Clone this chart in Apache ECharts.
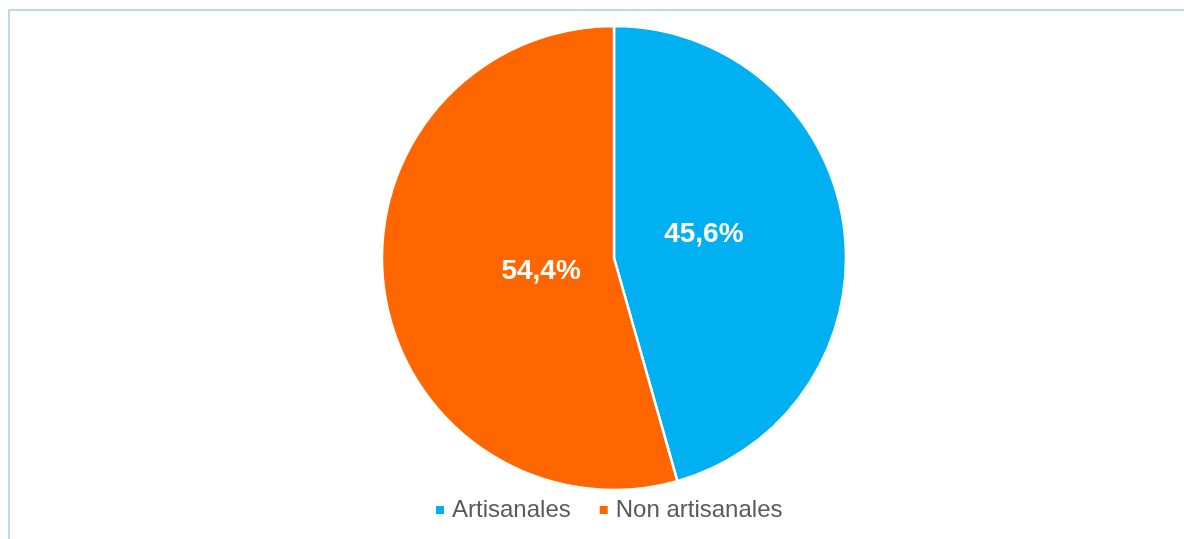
<!DOCTYPE html>
<html>
<head>
<meta charset="utf-8">
<style>
  html, body { margin: 0; padding: 0; background: #fff; overflow: hidden; }
  #frame {
    position: absolute; left: 8px; top: 9px;
    width: 1200px; height: 560px;
    border: 2px solid #BDD7EE; box-sizing: border-box;
  }
  #chart { position: absolute; left: 0; top: 0; width: 1184px; height: 539px; }
</style>
<script src="https://cdn.jsdelivr.net/npm/echarts@6/dist/echarts.min.js"></script>
</head>
<body>
<div id="frame"></div>
<div id="chart"></div>
<script>
// Share of artisanal vs non-artisanal production (%)
const categories = ['Artisanales', 'Non artisanales'];
const shares = [45.6, 54.4];
const colors = ['#00B0F0', '#FF6600'];
// nudges for the in-slice percentage labels
const labelOffsets = [[-28, -7], [45, -3]];

const chart = echarts.init(document.getElementById('chart'), null, { renderer: 'canvas' });

const pct = v => v.toFixed(1).replace('.', ',') + '%';

chart.setOption({
  animation: false,
  legend: {
    bottom: 12,
    left: 429,
    icon: 'rect',
    itemWidth: 10,
    itemHeight: 10,
    itemGap: 27,
    data: categories,
    textStyle: {
      fontFamily: 'Liberation Sans, Arial, sans-serif',
      fontSize: 24,
      color: '#595959',
      padding: [0, 0, 0, 2]
    }
  },
  series: [{
    type: 'pie',
    center: [614, 258],
    radius: 232,
    startAngle: 90,
    clockwise: true,
    avoidLabelOverlap: false,
    itemStyle: { borderColor: '#ffffff', borderWidth: 2.5 },
    label: {
      show: true,
      position: 'inside',
      formatter: p => pct(p.value),
      color: '#ffffff',
      fontFamily: 'Liberation Sans, Arial, sans-serif',
      fontWeight: 'bold',
      fontSize: 28
    },
    labelLine: { show: false },
    emphasis: { disabled: true },
    data: categories.map((name, i) => ({
      name,
      value: shares[i],
      itemStyle: { color: colors[i] },
      label: { offset: labelOffsets[i] }
    }))
  }]
});
</script>
</body>
</html>
